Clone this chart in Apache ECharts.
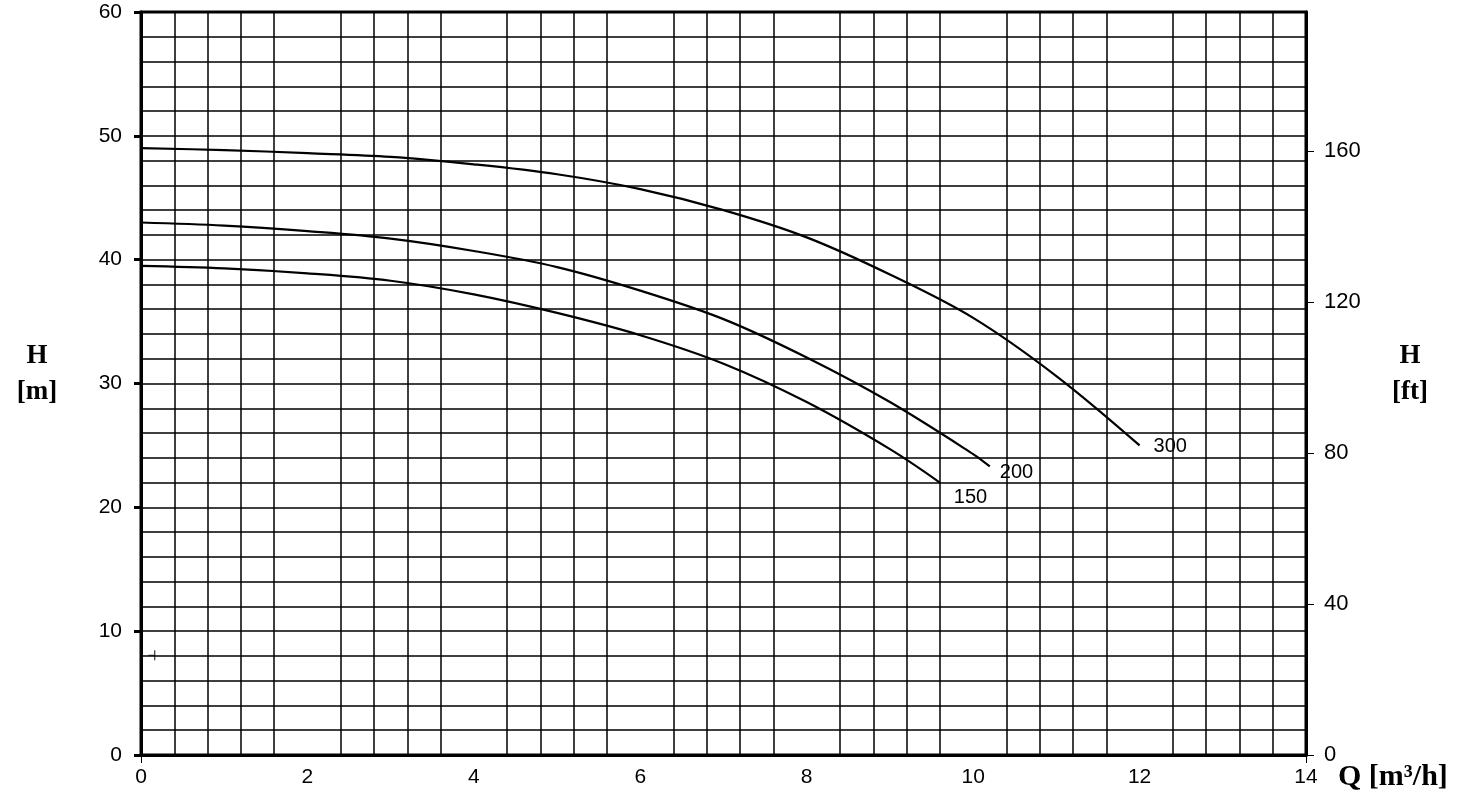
<!DOCTYPE html>
<html>
<head>
<meta charset="utf-8">
<script src="https://cdn.jsdelivr.net/npm/echarts@6/dist/echarts.min.js"></script>
<style>
html, body { margin: 0; padding: 0; background: #fff; }
#main { width: 1460px; height: 801px; }
</style>
</head>
<body>
<div id="main"></div>
<script>
// pump curves, Q in m3/h, H in m
var q300 = [0, 1, 2, 3, 4, 5, 6, 7, 8, 9, 10, 11, 12];
var h300 = [49.0, 48.85, 48.6, 48.3, 47.7, 46.9, 45.7, 44.0, 41.8, 38.8, 35.3, 30.6, 25.0];
var q200 = [0, 1, 2, 3, 4, 5, 6, 7, 8, 9, 10, 10.2];
var h200 = [43.0, 42.75, 42.3, 41.7, 40.7, 39.4, 37.5, 35.2, 32.1, 28.5, 24.3, 23.3];
var q150 = [0, 1, 2, 3, 4, 5, 6, 7, 8, 9, 9.6];
var h150 = [39.5, 39.3, 38.9, 38.3, 37.2, 35.7, 33.9, 31.6, 28.5, 24.7, 22.0];
var curveNames = ['300', '200', '150'];
var xTicks = [0, 2, 4, 6, 8, 10, 12, 14];
var ftTicks = [0, 40, 80, 120, 160];
var crossMark = [[0.13, 8.05]];

function pairs(xs, ys) {
  return xs.map(function (x, i) { return [x, ys[i]]; });
}

var chartDom = document.getElementById('main');
var myChart = echarts.init(chartDom);
var labelFont = 'Liberation Sans, Arial, sans-serif';
var titleFont = 'Liberation Serif, DejaVu Serif, serif';

function curve(name, data, off) {
  return {
    name: name,
    type: 'line',
    data: data,
    smooth: 0.35,
    showSymbol: false,
    lineStyle: { color: '#000', width: 2.2 },
    endLabel: {
      show: true,
      formatter: name,
      color: '#000',
      fontFamily: labelFont,
      fontSize: 20,
      offset: off
    },
    silent: true
  };
}

var option = {
  animation: false,
  backgroundColor: '#fff',
  grid: {
    left: 141, right: 154, top: 12, bottom: 46,
    outerBoundsMode: 'none',
    show: true,
    borderColor: '#000',
    borderWidth: 3
  },
  xAxis: {
    type: 'value',
    min: 0, max: 14, interval: 2,
    axisLine: { show: true, lineStyle: { color: '#000', width: 3 } },
    axisTick: { show: true, customValues: [0, 14], length: 8, lineStyle: { color: '#000', width: 1 } },
    axisLabel: {
      color: '#000', fontSize: 21, fontFamily: labelFont, margin: 12,
      customValues: xTicks
    },
    splitLine: { show: true, lineStyle: { color: '#000', width: 1.5 } },
    minorTick: { show: false, splitNumber: 5 },
    minorSplitLine: { show: true, lineStyle: { color: '#000', width: 1.5 } }
  },
  yAxis: [{
    type: 'value',
    min: 0, max: 60, interval: 10,
    axisLine: { show: true, lineStyle: { color: '#000', width: 3 } },
    axisTick: { show: true, length: 7, lineStyle: { color: '#000', width: 3 } },
    axisLabel: { color: '#000', fontSize: 21, fontFamily: labelFont, margin: 19 },
    splitLine: { show: true, lineStyle: { color: '#000', width: 1.5 } },
    minorTick: { show: false, splitNumber: 5 },
    minorSplitLine: { show: true, lineStyle: { color: '#000', width: 1.5 } }
  }, {
    type: 'value',
    position: 'right',
    min: 0, max: 60 * 3.28084,
    axisLine: { show: true, lineStyle: { color: '#000', width: 3 } },
    axisTick: { show: true, customValues: ftTicks, length: 8, lineStyle: { color: '#000', width: 1 } },
    axisLabel: { color: '#000', fontSize: 22, fontFamily: labelFont, margin: 18, customValues: ftTicks },
    splitLine: { show: false }
  }],
  graphic: [{
    type: 'text', x: 37, y: 338,
    style: { text: 'H\n[m]', fill: '#000', font: 'bold 27px ' + titleFont, align: 'center', lineHeight: 36 }
  }, {
    type: 'text', x: 1410, y: 338,
    style: { text: 'H\n[ft]', fill: '#000', font: 'bold 27px ' + titleFont, align: 'center', lineHeight: 36 }
  }, {
    type: 'text', x: 1338, y: 762,
    style: { text: 'Q [m³/h]', fill: '#000', font: 'bold 30px ' + titleFont }
  }],
  series: [
    curve(curveNames[0], pairs(q300, h300), [6, 1]),
    curve(curveNames[1], pairs(q200, h200), [2, 6]),
    curve(curveNames[2], pairs(q150, h150), [6, 15]),
    {
      type: 'scatter',
      data: crossMark,
      symbol: 'path://M0,0h1v10h-1z M-5,4.5h6v1h-6z',
      symbolSize: [7, 10],
      itemStyle: { color: '#000' },
      silent: true
    }
  ]
};
option && myChart.setOption(option);
</script>
</body>
</html>
